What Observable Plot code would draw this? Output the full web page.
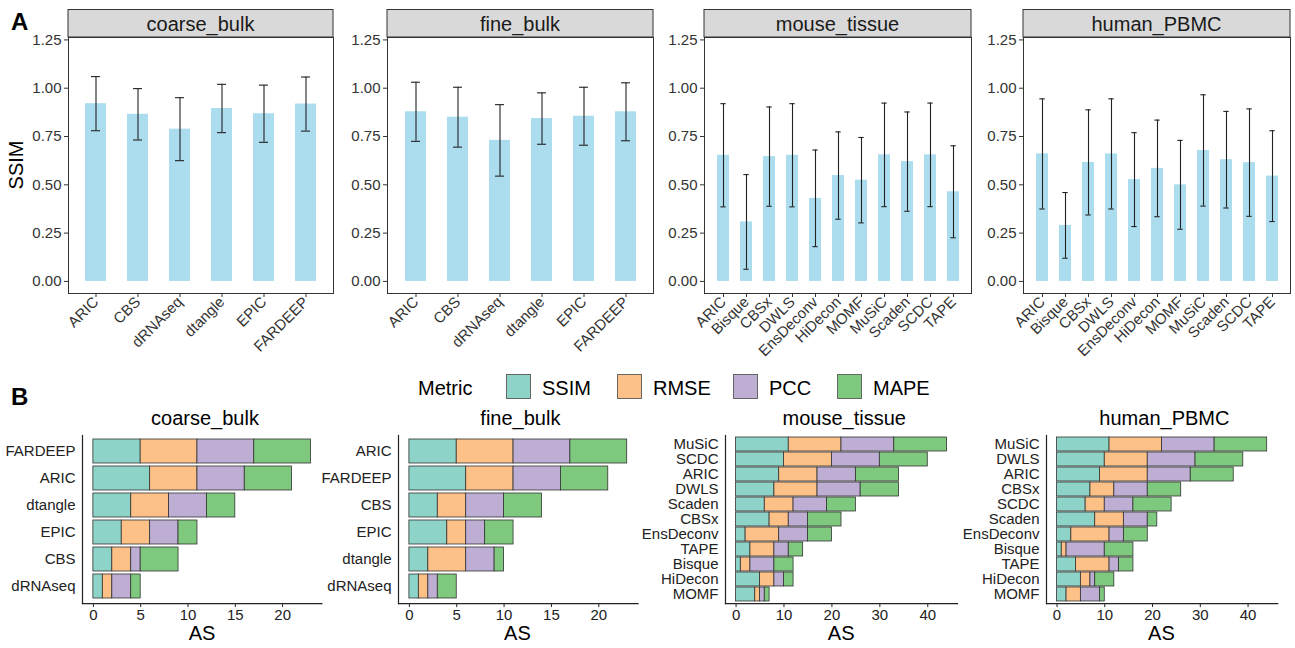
<!DOCTYPE html>
<html>
<head>
<meta charset="utf-8">
<script src="https://cdn.jsdelivr.net/npm/d3@7"></script>
<script src="https://cdn.jsdelivr.net/npm/@observablehq/plot@0.6"></script>
<style>
  html, body { margin: 0; padding: 0; background: #fff; }
  #fig { position: relative; width: 1295px; height: 648px; overflow: hidden; background: #fff;
         font-family: "Liberation Sans", Arial, Helvetica, sans-serif; }
</style>
</head>
<body>
<div id="fig"></div>
<script>
// ---------------- DATA ----------------
const datasets = ["coarse_bulk", "fine_bulk", "mouse_tissue", "human_PBMC"];
const metrics = ["SSIM", "RMSE", "PCC", "MAPE"];
const metricColors = ["#8DD3C7", "#FDC086", "#BEAED4", "#7FC97F"];

// Panel A: mean SSIM and SD per method
const bulkMethods = ["ARIC", "CBS", "dRNAseq", "dtangle", "EPIC", "FARDEEP"];
const scMethods = ["ARIC", "Bisque", "CBSx", "DWLS", "EnsDeconv", "HiDecon", "MOMF", "MuSiC", "Scaden", "SCDC", "TAPE"];

const coarseMean = [0.92, 0.865, 0.788, 0.895, 0.868, 0.918];
const coarseSd   = [0.14, 0.133, 0.163, 0.125, 0.148, 0.14];
const fineMean   = [0.878, 0.85, 0.73, 0.843, 0.855, 0.878];
const fineSd     = [0.153, 0.155, 0.185, 0.133, 0.15, 0.15];
const mouseMean  = [0.653, 0.308, 0.646, 0.653, 0.43, 0.548, 0.524, 0.655, 0.62, 0.655, 0.464];
const mouseSd    = [0.267, 0.245, 0.257, 0.267, 0.25, 0.226, 0.221, 0.268, 0.257, 0.268, 0.238];
const humanMean  = [0.66, 0.29, 0.616, 0.66, 0.527, 0.585, 0.5, 0.678, 0.63, 0.615, 0.545];
const humanSd    = [0.285, 0.17, 0.272, 0.285, 0.243, 0.25, 0.23, 0.288, 0.25, 0.278, 0.235];

// Panel B: rank scores (AS) per metric, methods listed top to bottom
const coarseAsMethods = ["FARDEEP", "ARIC", "dtangle", "EPIC", "CBS", "dRNAseq"];
const coarseAsSSIM = [5, 6, 4, 3, 2, 1];
const coarseAsRMSE = [6, 5, 4, 3, 2, 1];
const coarseAsPCC  = [6, 5, 4, 3, 1, 2];
const coarseAsMAPE = [6, 5, 3, 2, 4, 1];

const fineAsMethods = ["ARIC", "FARDEEP", "CBS", "EPIC", "dtangle", "dRNAseq"];
const fineAsSSIM = [5, 6, 3, 4, 2, 1];
const fineAsRMSE = [6, 5, 3, 2, 4, 1];
const fineAsPCC  = [6, 5, 4, 2, 3, 1];
const fineAsMAPE = [6, 5, 4, 3, 1, 2];

const mouseAsMethods = ["MuSiC", "SCDC", "ARIC", "DWLS", "Scaden", "CBSx", "EnsDeconv", "TAPE", "Bisque", "HiDecon", "MOMF"];
const mouseAsSSIM = [11, 10, 9, 8, 6, 7, 2, 3, 1, 5, 4];
const mouseAsRMSE = [11, 10, 8, 9, 6, 4, 7, 5, 2, 3, 1];
const mouseAsPCC  = [11, 10, 8, 9, 7, 4, 6, 3, 5, 2, 1];
const mouseAsMAPE = [11, 10, 9, 8, 6, 7, 5, 3, 4, 2, 1];

const humanAsMethods = ["MuSiC", "DWLS", "ARIC", "CBSx", "SCDC", "Scaden", "EnsDeconv", "Bisque", "TAPE", "HiDecon", "MOMF"];
const humanAsSSIM = [11, 10, 9, 7, 6, 8, 3, 1, 4, 5, 2];
const humanAsRMSE = [11, 9, 10, 5, 4, 6, 8, 1, 7, 2, 3];
const humanAsPCC  = [11, 10, 9, 7, 6, 5, 3, 8, 2, 1, 4];
const humanAsMAPE = [11, 10, 9, 7, 8, 2, 5, 6, 3, 4, 1];

const ssimTicks = [0, 0.25, 0.5, 0.75, 1, 1.25];
const asTicksBulk = [0, 5, 10, 15, 20];
const asTicksSc = [0, 10, 20, 30, 40];

// ---------------- LAYOUT ----------------
const FONT = '"Liberation Sans", Arial, Helvetica, sans-serif';
const fig = document.getElementById("fig");
function place(el, left, top) {
  el.style.position = "absolute";
  el.style.left = left + "px";
  el.style.top = top + "px";
  fig.appendChild(el);
}

const A_TOP = 37, A_BOTTOM = 293;
const A_FRAMES = [[68, 333], [387, 653], [704, 971], [1023, 1290]];
const B_TOP = 434.7, B_BOTTOM = 602.8;
const B_FRAMES = [[82.3, 321.7], [397.6, 637.2], [725.2, 957.2], [1045.8, 1277]];

function panelA(methods, mean, sd, frame) {
  const [L, R] = frame;
  const rows = methods.map((m, i) => ({ method: m, mean: mean[i], lo: mean[i] - sd[i], hi: mean[i] + sd[i] }));
  const W = R - L, H = A_BOTTOM - A_TOP, n = methods.length;
  const step = W / (n + 0.2);
  const inset = 0.14 * step;
  const ml = 50, mr = 4, mt = 4, mb = 72;
  const p = Plot.plot({
    width: W + ml + mr, height: H + mt + mb,
    marginLeft: ml, marginRight: mr, marginTop: mt, marginBottom: mb,
    style: { fontFamily: FONT, fontSize: "15px", color: "#333", background: "none", overflow: "visible" },
    x: { domain: methods, paddingInner: 0.5, paddingOuter: 0.35, label: null, tickRotate: -45, tickSize: 4, tickPadding: 2 },
    y: { domain: [-0.0625, 1.2625], ticks: ssimTicks, tickFormat: d3.format(".2f"), label: null, tickSize: 4, tickPadding: 3 },
    marks: [
      Plot.barY(rows, { x: "method", y: "mean", fill: "#ACDDEF" }),
      Plot.ruleX(rows, { x: "method", y1: "lo", y2: "hi", stroke: "#222", strokeWidth: 1.1 }),
      Plot.tickY(rows, { x: "method", y: "lo", insetLeft: inset, insetRight: inset, stroke: "#222", strokeWidth: 1.1 }),
      Plot.tickY(rows, { x: "method", y: "hi", insetLeft: inset, insetRight: inset, stroke: "#222", strokeWidth: 1.1 }),
      Plot.frame({ stroke: "#333", strokeWidth: 1 })
    ]
  });
  place(p, L - ml, A_TOP - mt);
}

function panelB(methods, ssim, rmse, pcc, mape, frame, ticks) {
  const [L, R] = frame;
  const vals = [ssim, rmse, pcc, mape];
  const rows = methods.flatMap((m, i) => metrics.map((k, j) => ({ method: m, metric: k, value: vals[j][i] })));
  const totals = methods.map((m, i) => d3.sum(vals, v => v[i]));
  const xmax = d3.max(totals);
  const W = R - L, H = B_BOTTOM - B_TOP;
  const ml = 95, mr = 6, mt = 2, mb = 26;
  const p = Plot.plot({
    width: W + ml + mr, height: H + mt + mb,
    marginLeft: ml, marginRight: mr, marginTop: mt, marginBottom: mb,
    style: { fontFamily: FONT, fontSize: "15px", color: "#222", background: "none", overflow: "visible" },
    x: { domain: [-0.05 * xmax, 1.05 * xmax], ticks, label: null, tickSize: 4, tickPadding: 2 },
    y: { domain: methods, paddingInner: 0.1, paddingOuter: 0.15, label: null, tickSize: 0, tickPadding: 7 },
    color: { domain: metrics, range: metricColors },
    marks: [
      Plot.barX(rows, { x: "value", y: "method", fill: "metric", stroke: "#333", strokeWidth: 0.8 }),
      Plot.frame({ anchor: "left", stroke: "#222", strokeWidth: 1.2 }),
      Plot.frame({ anchor: "bottom", stroke: "#222", strokeWidth: 1.2 })
    ]
  });
  place(p, L - ml, B_TOP - mt);
}

panelA(bulkMethods, coarseMean, coarseSd, A_FRAMES[0]);
panelA(bulkMethods, fineMean, fineSd, A_FRAMES[1]);
panelA(scMethods, mouseMean, mouseSd, A_FRAMES[2]);
panelA(scMethods, humanMean, humanSd, A_FRAMES[3]);

panelB(coarseAsMethods, coarseAsSSIM, coarseAsRMSE, coarseAsPCC, coarseAsMAPE, B_FRAMES[0], asTicksBulk);
panelB(fineAsMethods, fineAsSSIM, fineAsRMSE, fineAsPCC, fineAsMAPE, B_FRAMES[1], asTicksBulk);
panelB(mouseAsMethods, mouseAsSSIM, mouseAsRMSE, mouseAsPCC, mouseAsMAPE, B_FRAMES[2], asTicksSc);
panelB(humanAsMethods, humanAsSSIM, humanAsRMSE, humanAsPCC, humanAsMAPE, B_FRAMES[3], asTicksSc);

// ---------------- ANNOTATIONS (strips, titles, labels, legend) ----------------
const ov = d3.create("svg").attr("width", 1295).attr("height", 648)
  .style("position", "absolute").style("left", "0px").style("top", "0px")
  .style("pointer-events", "none").style("font-family", FONT);

function txt(x, y, s, size, anchor = "middle", weight = "normal", fill = "#000") {
  return ov.append("text").attr("x", x).attr("y", y).attr("text-anchor", anchor)
    .attr("font-size", size).attr("font-weight", weight).attr("fill", fill).text(s);
}

txt(11, 30, "A", 24, "start", "bold");
txt(11, 405, "B", 24, "start", "bold");

datasets.forEach((d, i) => {
  const [L, R] = A_FRAMES[i];
  ov.append("rect").attr("x", L).attr("y", 9.5).attr("width", R - L).attr("height", A_TOP - 9.5)
    .attr("fill", "#D9D9D9").attr("stroke", "#333").attr("stroke-width", 1);
  txt((L + R) / 2, 30.5, d, 20, "middle", "normal", "#1a1a1a");
  const [bl, br] = B_FRAMES[i];
  txt((bl + br) / 2 + 3, 425, d, 20);
  txt((bl + br) / 2, 640, "AS", 20);
});

txt(0, 0, "SSIM", 20).attr("transform", "translate(23,165) rotate(-90)");

// legend
txt(418, 395, "Metric", 20, "start");
const keyX = [506, 617, 733, 837];
metrics.forEach((m, i) => {
  ov.append("rect").attr("x", keyX[i] + 0.5).attr("y", 374.5).attr("width", 24).attr("height", 24)
    .attr("fill", metricColors[i]).attr("stroke", "#666").attr("stroke-width", 1);
  txt(keyX[i] + 36, 395, m, 20, "start");
});

fig.appendChild(ov.node());
</script>
</body>
</html>
